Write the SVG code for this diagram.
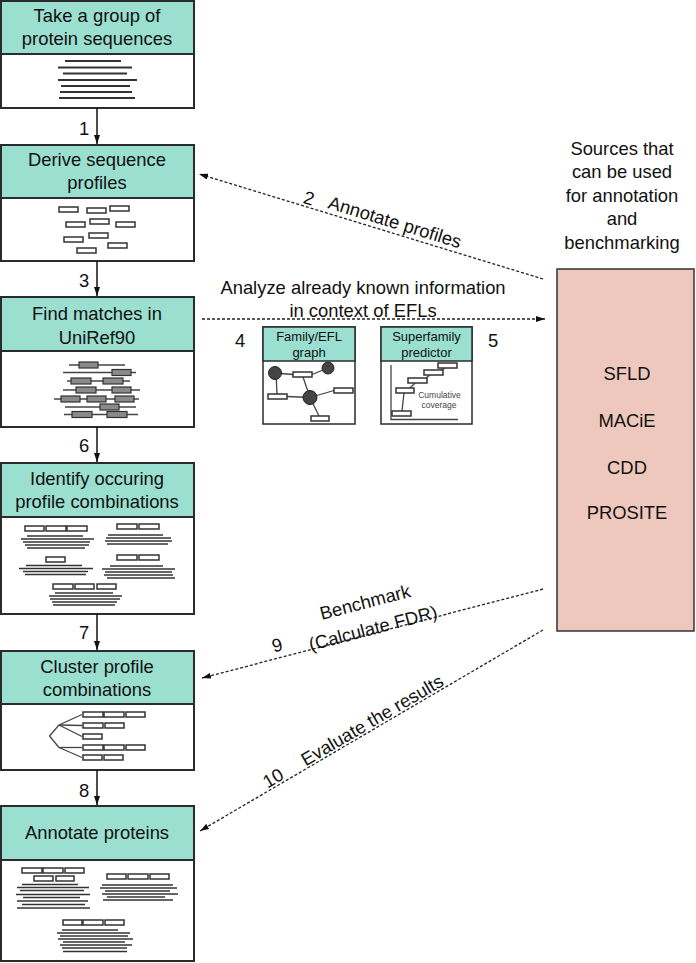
<svg xmlns="http://www.w3.org/2000/svg" width="696" height="963" viewBox="0 0 696 963">
<style>
.hd{fill:#9ADFCF;stroke:#2b2b2b;stroke-width:2}
.bd{fill:#fff;stroke:#2b2b2b;stroke-width:2}
.t{font-family:"Liberation Sans",Arial,sans-serif;font-size:18.4px;fill:#111;text-anchor:middle}
.ts{font-family:"Liberation Sans",Arial,sans-serif;font-size:13px;fill:#111;text-anchor:middle}
.tc{font-family:"Liberation Sans",Arial,sans-serif;font-size:8.5px;fill:#444;text-anchor:middle}
.sq line{stroke:#333;stroke-width:2}
.sqt line{stroke:#333;stroke-width:1.6}
.pr rect{fill:#fff;stroke:#333;stroke-width:1.5}
.gr rect{fill:#8a8a8a;stroke:#333;stroke-width:1.2}
.tl line{stroke:#444;stroke-width:1.3}
.ar{stroke:#111;stroke-width:1.5;fill:none}
.da{stroke:#222;stroke-width:1.3;stroke-dasharray:3 2;fill:none}
</style>
<defs>
<marker id="ah" markerUnits="userSpaceOnUse" markerWidth="9" markerHeight="6" refX="9" refY="3" orient="auto">
<path d="M0,0 L9,3 L0,6 z" fill="#111"/>
</marker>
</defs>

<g id="n1">
<rect class="bd" x="1" y="1" width="193" height="107"/>
<rect class="hd" x="1" y="1" width="193" height="53"/>
<text class="t" x="97" y="22">Take a group of</text>
<text class="t" x="97" y="45">protein sequences</text>
<g class="sq">
<line x1="65" y1="61" x2="121" y2="61"/>
<line x1="58" y1="67.5" x2="132" y2="67.5"/>
<line x1="63" y1="73.5" x2="127" y2="73.5"/>
<line x1="58" y1="80" x2="137" y2="80"/>
<line x1="61" y1="86" x2="130" y2="86"/>
<line x1="60" y1="92" x2="132" y2="92"/>
<line x1="59" y1="98" x2="135" y2="98"/>
</g>
</g>

<g id="n2">
<rect class="bd" x="1" y="145" width="193" height="116"/>
<rect class="hd" x="1" y="145" width="193" height="53"/>
<text class="t" x="97" y="165.5">Derive sequence</text>
<text class="t" x="97" y="188.5">profiles</text>
<g class="pr">
<rect x="59" y="207" width="19" height="5"/>
<rect x="87" y="208" width="19" height="5"/>
<rect x="110" y="206" width="19" height="5"/>
<rect x="66" y="222" width="19" height="5"/>
<rect x="90" y="219" width="19" height="5"/>
<rect x="116" y="222" width="19" height="5"/>
<rect x="64" y="237" width="19" height="5"/>
<rect x="89" y="233" width="19" height="5"/>
<rect x="77" y="248" width="19" height="5"/>
<rect x="108" y="243" width="19" height="5"/>
</g>
</g>

<g id="n3">
<rect class="bd" x="1" y="297" width="193" height="130"/>
<rect class="hd" x="1" y="297" width="193" height="54"/>
<text class="t" x="97" y="319.5">Find matches in</text>
<text class="t" x="97" y="343.5">UniRef90</text>
<g class="tl">
<line x1="69" y1="365" x2="125" y2="365"/>
<line x1="63" y1="372.5" x2="136" y2="372.5"/>
<line x1="67" y1="381" x2="130" y2="381"/>
<line x1="63" y1="390" x2="140" y2="390"/>
<line x1="54" y1="399" x2="139" y2="399"/>
<line x1="65" y1="407" x2="136" y2="407"/>
<line x1="64" y1="414.5" x2="138" y2="414.5"/>
</g>
<g class="gr">
<rect x="79" y="362" width="19" height="6"/>
<rect x="112" y="369.5" width="19" height="6"/>
<rect x="71" y="378" width="20" height="6"/>
<rect x="103" y="378" width="20" height="6"/>
<rect x="76" y="387" width="20" height="6"/>
<rect x="112" y="387" width="19" height="6"/>
<rect x="61" y="396" width="19" height="6"/>
<rect x="87" y="396" width="19" height="6"/>
<rect x="115" y="396" width="19" height="6"/>
<rect x="100" y="404" width="19" height="6"/>
<rect x="72" y="411.5" width="20" height="6"/>
<rect x="107" y="411.5" width="20" height="6"/>
</g>
</g>

<g id="n4">
<rect class="bd" x="1" y="463" width="193" height="151"/>
<rect class="hd" x="1" y="463" width="193" height="54"/>
<text class="t" x="97" y="484.5">Identify occuring</text>
<text class="t" x="97" y="507.5">profile combinations</text>
<g class="pr">
<rect x="25" y="526" width="19" height="5"/>
<rect x="46" y="526" width="20" height="5"/>
<rect x="67" y="526" width="20" height="5"/>
<rect x="117" y="524" width="20" height="5"/>
<rect x="139" y="524" width="20" height="5"/>
<rect x="46" y="557" width="19" height="5"/>
<rect x="117" y="555" width="20" height="5"/>
<rect x="139" y="555" width="20" height="5"/>
<rect x="53" y="584" width="20" height="5"/>
<rect x="75" y="584" width="19" height="5"/>
<rect x="97" y="584" width="19" height="5"/>
</g>
<g class="sqt">
<line x1="27" y1="536" x2="83" y2="536"/>
<line x1="21" y1="539" x2="94" y2="539"/>
<line x1="23" y1="542" x2="90" y2="542"/>
<line x1="25" y1="545" x2="89" y2="545"/>
<line x1="27" y1="548" x2="85" y2="548"/>
<line x1="108" y1="535" x2="163" y2="535"/>
<line x1="106" y1="538" x2="171" y2="538"/>
<line x1="105" y1="541" x2="172" y2="541"/>
<line x1="107" y1="544" x2="168" y2="544"/>
<line x1="26" y1="565.5" x2="82" y2="565.5"/>
<line x1="19" y1="568.5" x2="93" y2="568.5"/>
<line x1="23" y1="571.5" x2="88" y2="571.5"/>
<line x1="25" y1="574.5" x2="86" y2="574.5"/>
<line x1="110" y1="566" x2="163" y2="566"/>
<line x1="102" y1="569" x2="175" y2="569"/>
<line x1="105" y1="572" x2="172" y2="572"/>
<line x1="104" y1="575" x2="173" y2="575"/>
<line x1="107" y1="578" x2="175" y2="578"/>
<line x1="55" y1="593" x2="113" y2="593"/>
<line x1="49" y1="596" x2="122" y2="596"/>
<line x1="50" y1="599" x2="120" y2="599"/>
<line x1="52" y1="602" x2="117" y2="602"/>
<line x1="53" y1="605" x2="115" y2="605"/>
</g>
</g>

<g id="n5">
<rect class="bd" x="1" y="651" width="193" height="119"/>
<rect class="hd" x="1" y="651" width="193" height="53"/>
<text class="t" x="97" y="672.5">Cluster profile</text>
<text class="t" x="97" y="695.5">combinations</text>
<g class="tl">
<line x1="49.5" y1="736" x2="59" y2="725"/>
<line x1="49.5" y1="736" x2="59" y2="747.5"/>
<line x1="59" y1="725" x2="82" y2="714.5"/>
<line x1="59" y1="725" x2="82" y2="725.5"/>
<line x1="59" y1="725" x2="82" y2="736.5"/>
<line x1="59" y1="747.5" x2="82" y2="747.5"/>
<line x1="59" y1="747.5" x2="82" y2="757.5"/>
</g>
<g class="pr">
<rect x="83" y="712" width="20" height="5"/>
<rect x="104" y="712" width="20" height="5"/>
<rect x="126" y="712" width="19" height="5"/>
<rect x="83" y="723" width="20" height="5"/>
<rect x="105" y="723" width="19" height="5"/>
<rect x="83" y="734" width="19" height="5"/>
<rect x="83" y="745" width="20" height="5"/>
<rect x="104" y="745" width="20" height="5"/>
<rect x="126" y="745" width="19" height="5"/>
<rect x="83" y="755" width="19" height="5"/>
<rect x="104" y="755" width="19" height="5"/>
</g>
</g>

<g id="n6">
<rect class="bd" x="1" y="806" width="193" height="155"/>
<rect class="hd" x="1" y="806" width="193" height="54"/>
<text class="t" x="97" y="838.5">Annotate proteins</text>
<g class="pr">
<rect x="22" y="868" width="20" height="5"/>
<rect x="43" y="868" width="20" height="5"/>
<rect x="65" y="868" width="19" height="5"/>
<rect x="34" y="876" width="19" height="5"/>
<rect x="56" y="876" width="18" height="5"/>
<rect x="107" y="874" width="19" height="5"/>
<rect x="128" y="874" width="20" height="5"/>
<rect x="150" y="874" width="19" height="5"/>
<rect x="63" y="920" width="19" height="5"/>
<rect x="83" y="920" width="20" height="5"/>
<rect x="105" y="920" width="19" height="5"/>
</g>
<g class="sqt">
<line x1="22" y1="884.5" x2="78" y2="884.5"/>
<line x1="17" y1="887.5" x2="89" y2="887.5"/>
<line x1="20" y1="890.5" x2="84" y2="890.5"/>
<line x1="16" y1="894.5" x2="90" y2="894.5"/>
<line x1="23" y1="897.5" x2="80" y2="897.5"/>
<line x1="17" y1="901" x2="88" y2="901"/>
<line x1="22" y1="904.5" x2="85" y2="904.5"/>
<line x1="17" y1="908" x2="90" y2="908"/>
<line x1="102" y1="885" x2="173" y2="885"/>
<line x1="100" y1="888" x2="177" y2="888"/>
<line x1="105" y1="891" x2="170" y2="891"/>
<line x1="102" y1="894" x2="178" y2="894"/>
<line x1="107" y1="897" x2="165" y2="897"/>
<line x1="103" y1="900" x2="173" y2="900"/>
<line x1="62" y1="930" x2="118" y2="930"/>
<line x1="57" y1="933" x2="130" y2="933"/>
<line x1="60" y1="936" x2="128" y2="936"/>
<line x1="58" y1="939" x2="133" y2="939"/>
<line x1="63" y1="942" x2="125" y2="942"/>
<line x1="60" y1="945" x2="132" y2="945"/>
<line x1="62" y1="948" x2="127" y2="948"/>
<line x1="63" y1="951.5" x2="127" y2="951.5"/>
</g>
</g>

<g id="efl">
<rect class="bd" x="263" y="327" width="92" height="97" style="stroke-width:1.5"/>
<rect class="hd" x="263" y="327" width="92" height="34" style="stroke-width:1.5"/>
<text class="ts" x="309" y="340.7">Family/EFL</text>
<text class="ts" x="309" y="356.7">graph</text>
<g class="tl">
<line x1="275" y1="373" x2="293" y2="374.5"/>
<line x1="312" y1="374.5" x2="328" y2="368"/>
<line x1="276" y1="373" x2="277" y2="394"/>
<line x1="287" y1="396.5" x2="310" y2="397.5"/>
<line x1="303" y1="377" x2="310" y2="397.5"/>
<line x1="310" y1="397.5" x2="334" y2="390.5"/>
<line x1="310" y1="397.5" x2="319" y2="416"/>
</g>
<g fill="#444" stroke="#222" stroke-width="1">
<circle cx="275" cy="373" r="6.5"/>
<circle cx="328" cy="368" r="6"/>
<circle cx="310" cy="397.5" r="7"/>
</g>
<g class="pr">
<rect x="293" y="372" width="19" height="5"/>
<rect x="268" y="394" width="19" height="5"/>
<rect x="334" y="388" width="19" height="5"/>
<rect x="311" y="416" width="18" height="5"/>
</g>
</g>

<g id="sfp">
<rect class="bd" x="381" y="327" width="91" height="97" style="stroke-width:1.5"/>
<rect class="hd" x="381" y="327" width="91" height="34" style="stroke-width:1.5"/>
<text class="ts" x="426.5" y="340.7">Superfamily</text>
<text class="ts" x="426.5" y="356.7">predictor</text>
<g class="tl">
<line x1="391" y1="365" x2="391" y2="419.5"/>
<line x1="390.5" y1="419.5" x2="458" y2="419.5"/>
<line x1="402" y1="411" x2="404" y2="393"/>
<line x1="410" y1="388" x2="415" y2="383"/>
<line x1="426" y1="378" x2="430" y2="375"/>
<line x1="441" y1="370" x2="445" y2="368"/>
</g>
<g class="pr">
<rect x="392" y="411" width="19" height="5"/>
<rect x="396" y="388" width="18" height="5"/>
<rect x="408" y="378" width="19" height="5"/>
<rect x="424" y="370" width="19" height="5"/>
<rect x="438" y="363" width="19" height="5"/>
</g>
<text class="tc" x="439.5" y="398">Cumulative</text>
<text class="tc" x="439" y="408">coverage</text>
</g>

<g id="src">
<rect x="557" y="269" width="137" height="362" fill="#EFC8BD" stroke="#333" stroke-width="1.5"/>
<text class="t" x="627" y="379.5">SFLD</text>
<text class="t" x="627" y="426.5">MACiE</text>
<text class="t" x="627" y="473.5">CDD</text>
<text class="t" x="627" y="518.5">PROSITE</text>
</g>

<g id="srclabel">
<text class="t" x="622" y="154.5">Sources that</text>
<text class="t" x="622" y="178">can be used</text>
<text class="t" x="622" y="201.5">for annotation</text>
<text class="t" x="622" y="225">and</text>
<text class="t" x="622" y="248.5">benchmarking</text>
</g>

<g id="connectors">
<line class="ar" x1="97" y1="108" x2="97" y2="144" marker-end="url(#ah)"/>
<line class="ar" x1="97" y1="261" x2="97" y2="296" marker-end="url(#ah)"/>
<line class="ar" x1="97" y1="427" x2="97" y2="462" marker-end="url(#ah)"/>
<line class="ar" x1="97" y1="614" x2="97" y2="650" marker-end="url(#ah)"/>
<line class="ar" x1="97" y1="770" x2="97" y2="805" marker-end="url(#ah)"/>
<line class="da" x1="543" y1="279" x2="199" y2="174" marker-end="url(#ah)"/>
<line class="da" x1="202" y1="319" x2="545" y2="319" marker-end="url(#ah)"/>
<line class="da" x1="543" y1="589" x2="202" y2="678" marker-end="url(#ah)"/>
<line class="da" x1="543" y1="630" x2="200" y2="831" marker-end="url(#ah)"/>
</g>

<g id="labels">
<text class="t" x="84" y="134.5">1</text>
<text class="t" x="84" y="286.5">3</text>
<text class="t" x="84" y="452">6</text>
<text class="t" x="84" y="638.5">7</text>
<text class="t" x="84" y="796.5">8</text>
<text class="t" x="240" y="346.5">4</text>
<text class="t" x="493" y="346.5">5</text>
<text class="t" transform="translate(309,198) rotate(17)" y="6.5">2</text>
<text class="t" transform="translate(395,222) rotate(17)" y="6.5">Annotate profiles</text>
<text class="t" x="363" y="293.5">Analyze already known information</text>
<text class="t" x="363" y="316.5">in context of EFLs</text>
<text class="t" transform="translate(365,602) rotate(-14.6)" y="6.5">Benchmark</text>
<text class="t" transform="translate(373,628) rotate(-14.6)" y="6.5">(Calculate FDR)</text>
<text class="t" transform="translate(277,645) rotate(-14.6)" y="6.5">9</text>
<text class="t" transform="translate(372,720) rotate(-30.4)" y="6.5">Evaluate the results</text>
<text class="t" transform="translate(273,778) rotate(-30.4)" y="6.5">10</text>
</g>
</svg>
